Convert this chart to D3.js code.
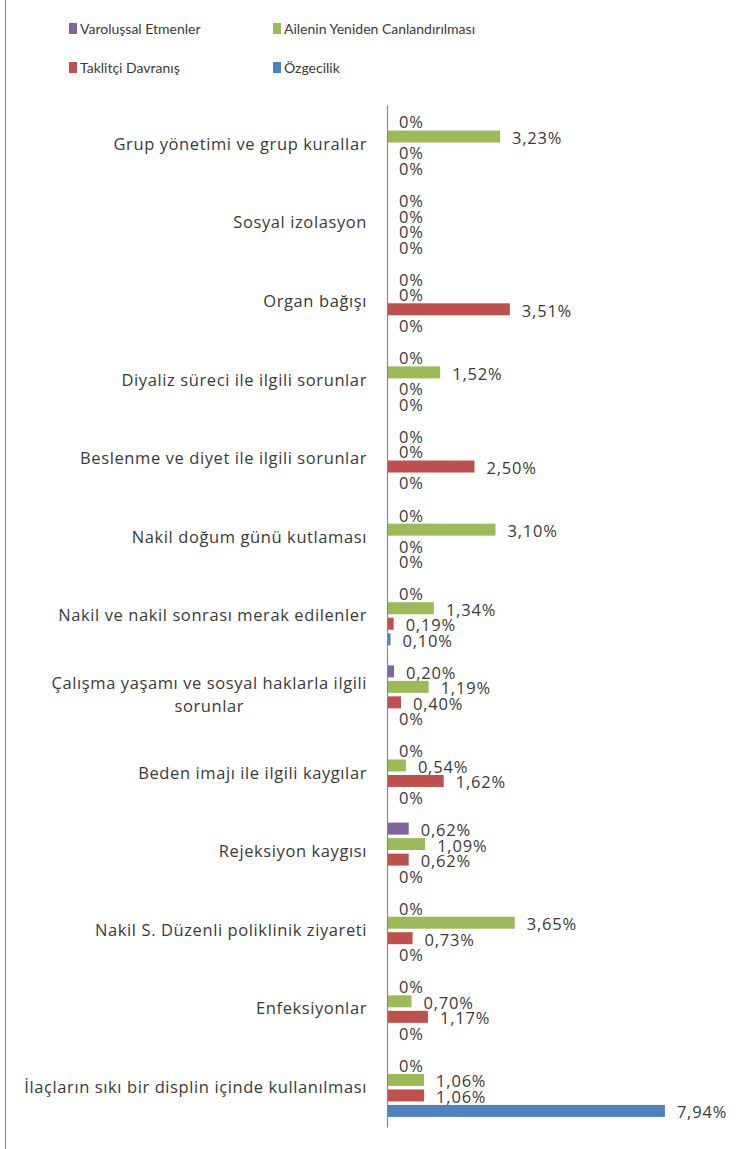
<!DOCTYPE html>
<html><head><meta charset="utf-8">
<script src="https://cdn.jsdelivr.net/npm/d3@7"></script>
<style>body{margin:0;background:#fff;} svg{display:block;}</style>
</head><body>
<script>
const categories = [
  "Grup yönetimi ve grup kurallar",
  "Sosyal izolasyon",
  "Organ bağışı",
  "Diyaliz süreci ile ilgili sorunlar",
  "Beslenme ve diyet ile ilgili sorunlar",
  "Nakil doğum günü kutlaması",
  "Nakil ve nakil sonrası merak edilenler",
  "Çalışma yaşamı ve sosyal haklarla ilgili sorunlar",
  "Beden imajı ile ilgili kaygılar",
  "Rejeksiyon kaygısı",
  "Nakil S. Düzenli poliklinik ziyareti",
  "Enfeksiyonlar",
  "İlaçların sıkı bir displin içinde kullanılması"
];
const seriesNames = ["Varoluşsal Etmenler","Ailenin Yeniden Canlandırılması","Taklitçi Davranış","Özgecilik"];
const seriesColors = ["#8064A2","#9BBB59","#C0504D","#4F81BD"];
const varolussal = [0,0,0,0,0,0,0,0.20,0,0.62,0,0,0];
const ailenin    = [3.23,0,0,1.52,0,3.10,1.34,1.19,0.54,1.09,3.65,0.70,1.06];
const taklitci   = [0,0,3.51,0,2.50,0,0.19,0.40,1.62,0.62,0.73,1.17,1.06];
const ozgecilik  = [0,0,0,0,0,0,0.10,0,0,0,0,0,7.94];
const seriesValues = [varolussal, ailenin, taklitci, ozgecilik];

const W = 750, H = 1149;
const svg = d3.select("body").append("svg").attr("width", W).attr("height", H);
const textColor = "#3a3a3a";
const fontFam = "'Open Sans', 'DejaVu Sans', sans-serif";

// left border
svg.append("line").attr("x1",5.5).attr("x2",5.5).attr("y1",0).attr("y2",H)
  .attr("stroke","#8a8a8a").attr("stroke-width",1);

const x = d3.scaleLinear().domain([0, 9]).range([387, 702]);
const y0 = d3.scaleBand().domain(categories).range([105, 1127]).paddingInner(0).paddingOuter(0);
const y1 = d3.scaleBand().domain(seriesNames).range([0, y0.bandwidth()]).paddingInner(0.226).paddingOuter(0.65);

const fmt = v => v === 0 ? "0%" : d3.format(".2f")(v).replace(".", ",") + "%";

const groups = svg.append("g").selectAll("g").data(categories).join("g")
  .attr("transform", c => `translate(0,${y0(c)})`);

groups.each(function(c, ci) {
  const g = d3.select(this);
  seriesNames.forEach((s, si) => {
    const v = seriesValues[si][ci];
    if (v > 0) {
      g.append("rect").attr("x", x(0)).attr("y", y1(s))
        .attr("width", x(v) - x(0)).attr("height", y1.bandwidth())
        .attr("fill", seriesColors[si]);
    }
    g.append("text").attr("x", x(v) + 12).attr("y", y1(s) + y1.bandwidth()/2 + 3)
      .attr("dominant-baseline","middle")
      .attr("font-family", fontFam).attr("font-size", 16.5).attr("letter-spacing", 0.8)
      .attr("fill", textColor).text(fmt(v));
  });
});

// axis line
const axis = d3.axisLeft(y0).tickSize(0).tickFormat("");
const ax = svg.append("g").attr("transform", `translate(${x(0)},0)`).call(axis);
ax.select(".domain").attr("stroke", "#8a8a8a").attr("stroke-width", 1.2);

// category labels (wrapped, block right-aligned, lines centered)
const labelRight = 367, wrapWidth = 360;
const catG = svg.append("g");
categories.forEach(c => {
  const t = catG.append("text").attr("font-family", fontFam).attr("font-size", 16.5)
    .attr("letter-spacing", 0.6).attr("fill", textColor).attr("text-anchor","middle");
  const words = c.split(" ");
  let lines = [], line = [];
  const probe = t.append("tspan");
  words.forEach(w => {
    line.push(w);
    probe.text(line.join(" "));
    if (probe.node().getComputedTextLength() > wrapWidth && line.length > 1) {
      line.pop(); lines.push(line.join(" ")); line = [w];
    }
  });
  lines.push(line.join(" "));
  probe.remove();
  const tsp = lines.map(l => t.append("tspan").text(l));
  const maxW = d3.max(tsp, s => s.node().getComputedTextLength());
  const cx = labelRight - maxW/2;
  const lh = 23;
  const cy = y0(c) + y0.bandwidth()/2 + 1;
  tsp.forEach((s, i) => s.attr("x", cx).attr("y", cy + (i - (lines.length-1)/2)*lh)
    .attr("dominant-baseline","middle"));
});

// legend
const legendPos = [[69,29],[273,29],[69,68],[273,68]];
const leg = svg.append("g");
seriesNames.forEach((s, i) => {
  const [lx, ly] = legendPos[i];
  leg.append("rect").attr("x", lx).attr("y", ly - 6).attr("width", 8).attr("height", 11).attr("fill", seriesColors[i]);
  leg.append("text").attr("x", lx + 11).attr("y", ly + 1).attr("dominant-baseline","middle")
    .attr("font-family", "Lato, 'Open Sans', sans-serif").attr("font-size", 14)
    .attr("fill", textColor).text(s);
});
</script>
</body></html>
